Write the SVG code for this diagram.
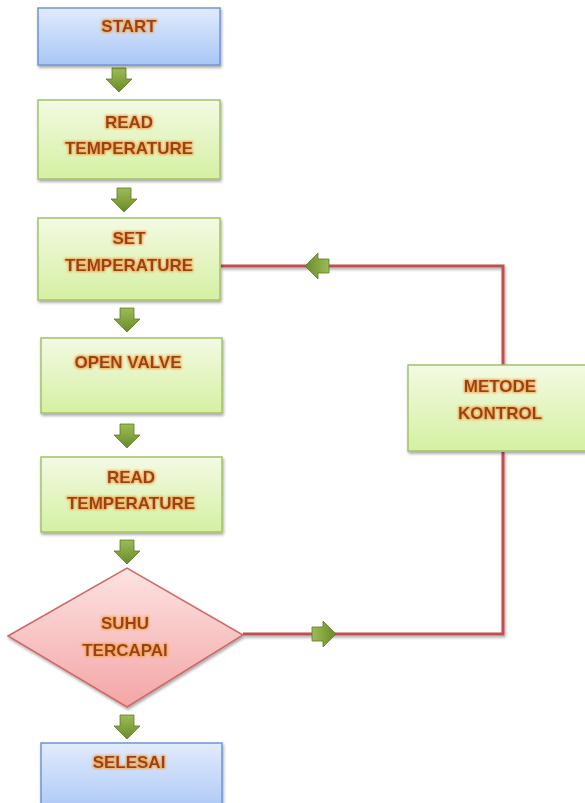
<svg xmlns="http://www.w3.org/2000/svg" width="585" height="803" viewBox="0 0 585 803">
  <defs>
    <linearGradient id="gBlue" x1="0" y1="0" x2="0" y2="1">
      <stop offset="0" stop-color="#e1ebfc"/>
      <stop offset="1" stop-color="#a9c6f6"/>
    </linearGradient>
    <linearGradient id="gGreen" x1="0" y1="0" x2="0" y2="1">
      <stop offset="0" stop-color="#f3fae3"/>
      <stop offset="1" stop-color="#d5f0a2"/>
    </linearGradient>
    <linearGradient id="gRed" x1="0" y1="0" x2="0" y2="1">
      <stop offset="0" stop-color="#fde3e3"/>
      <stop offset="1" stop-color="#f4a5a5"/>
    </linearGradient>
    <linearGradient id="gArrow" x1="0" y1="0" x2="0" y2="1">
      <stop offset="0" stop-color="#9cbd55"/>
      <stop offset="1" stop-color="#6a8a2a"/>
    </linearGradient>
    <filter id="shadow" x="-10%" y="-10%" width="125%" height="130%">
      <feDropShadow dx="1" dy="2" stdDeviation="1.5" flood-color="#000" flood-opacity="0.35"/>
    </filter>
    <filter id="glow" x="-10%" y="-30%" width="120%" height="160%">
      <feMorphology in="SourceAlpha" operator="dilate" radius="0.8" result="d"/>
      <feGaussianBlur in="d" stdDeviation="0.8" result="b"/>
      <feFlood flood-color="#f2a24a" flood-opacity="0.9"/>
      <feComposite in2="b" operator="in" result="g"/>
      <feMerge>
        <feMergeNode in="g"/>
        <feMergeNode in="SourceGraphic"/>
      </feMerge>
    </filter>
    <!-- block arrow pointing down, centred on x=0, from y=0 to y=24 -->
    <path id="arrowDown" d="M-7,0 H7 V11 H13 L0,24 L-13,11 H-7 Z"/>
  </defs>
  <style>
    .blue { fill: url(#gBlue); stroke: #6f95d3; stroke-width: 1.5; filter: url(#shadow); }
    .green { fill: url(#gGreen); stroke: #a3c26a; stroke-width: 1.5; filter: url(#shadow); }
    .red { fill: url(#gRed); stroke: #cd6a68; stroke-width: 1.5; filter: url(#shadow); }
    .label { font-family: "Liberation Sans", Arial, sans-serif; font-weight: bold; font-size: 17px; fill: #9a4018; text-anchor: middle; filter: url(#glow); }
    .link { fill: none; stroke: #c0504d; stroke-width: 3; filter: url(#shadow); }
    .flow { fill: url(#gArrow); stroke: #5c7a24; stroke-width: 0.8; }
  </style>

  <g id="connectors">
    <polyline class="link" points="221,266 503,266 503,365"/>
    <polyline class="link" points="503,452 503,634 243,634"/>
    <use href="#arrowDown" class="flow" transform="translate(119,68)"/>
    <use href="#arrowDown" class="flow" transform="translate(124,188)"/>
    <use href="#arrowDown" class="flow" transform="translate(127,308)"/>
    <use href="#arrowDown" class="flow" transform="translate(127,424)"/>
    <use href="#arrowDown" class="flow" transform="translate(127,540)"/>
    <use href="#arrowDown" class="flow" transform="translate(127,715)"/>
    <!-- arrow on the return line, pointing left -->
    <use href="#arrowDown" class="flow" transform="translate(329,266) rotate(90)"/>
    <!-- arrow on the exit line, pointing right -->
    <use href="#arrowDown" class="flow" transform="translate(312,634) rotate(-90)"/>
  </g>

  <g id="start">
    <rect class="blue" x="38" y="8" width="182" height="57"/>
    <text class="label" x="129" y="32">START</text>
  </g>

  <g id="read-temperature-1">
    <rect class="green" x="38" y="100" width="182" height="79"/>
    <text class="label" x="129" y="128">READ</text>
    <text class="label" x="129" y="154">TEMPERATURE</text>
  </g>

  <g id="set-temperature">
    <rect class="green" x="38" y="218" width="182" height="82"/>
    <text class="label" x="129" y="244">SET</text>
    <text class="label" x="129" y="271">TEMPERATURE</text>
  </g>

  <g id="open-valve">
    <rect class="green" x="41" y="338" width="181" height="75"/>
    <text class="label" x="128" y="368">OPEN VALVE</text>
  </g>

  <g id="read-temperature-2">
    <rect class="green" x="41" y="457" width="181" height="75"/>
    <text class="label" x="131" y="483">READ</text>
    <text class="label" x="131" y="509">TEMPERATURE</text>
  </g>

  <g id="suhu-tercapai">
    <polygon class="red" points="8,636 127,568 243,635 127,707"/>
    <text class="label" x="125" y="629">SUHU</text>
    <text class="label" x="125" y="656">TERCAPAI</text>
  </g>

  <g id="selesai">
    <rect class="blue" x="41" y="743" width="181" height="72"/>
    <text class="label" x="129" y="768">SELESAI</text>
  </g>

  <g id="metode-kontrol">
    <rect class="green" x="408" y="365" width="186" height="86"/>
    <text class="label" x="500" y="392">METODE</text>
    <text class="label" x="500" y="419">KONTROL</text>
  </g>
</svg>
